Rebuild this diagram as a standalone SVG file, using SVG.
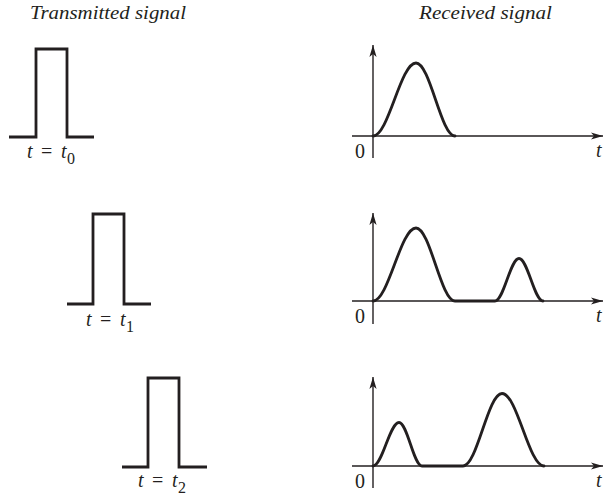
<svg xmlns="http://www.w3.org/2000/svg" width="604" height="496" viewBox="0 0 604 496">
<style>
.title{font-family:"Liberation Serif","Times New Roman",serif;font-style:italic;font-size:19px;fill:#231f20}
.lbl{font-family:"Liberation Serif","Times New Roman",serif;font-size:20px;fill:#231f20}
.sub{font-family:"Liberation Serif","Times New Roman",serif;font-size:16px;fill:#231f20}
.it{font-style:italic}
.pulse{fill:none;stroke:#231f20;stroke-width:2.8;stroke-linejoin:miter}
.axis{fill:none;stroke:#231f20;stroke-width:1.4}
.curve{fill:none;stroke:#231f20;stroke-width:2.8;stroke-linecap:round}
</style>
<defs>
<marker id="arr" markerUnits="userSpaceOnUse" markerWidth="16" markerHeight="10" viewBox="-13 -5 14 10" refX="0" refY="0" orient="auto">
<path d="M0,0 L-12,-3.6 L-9,0 L-12,3.6 Z" fill="#231f20"/>
</marker>
</defs>
<text class="title" x="30" y="19" textLength="156" lengthAdjust="spacingAndGlyphs">Transmitted signal</text>
<text class="title" x="419" y="19" textLength="133" lengthAdjust="spacingAndGlyphs">Received signal</text>

<g id="tx0">
<path class="pulse" d="M9,137 H36 V49 H67 V137 H94"/>
<text class="lbl it" x="27" y="158">t</text>
<text class="lbl" x="41" y="158">=</text>
<text class="lbl it" x="61" y="158">t</text>
<text class="sub" x="67" y="164">0</text>
</g>
<g id="tx1">
<path class="pulse" d="M67,304 H93 V214 H124 V304 H151"/>
<text class="lbl it" x="86" y="326">t</text>
<text class="lbl" x="100" y="326">=</text>
<text class="lbl it" x="120" y="326">t</text>
<text class="sub" x="126" y="332">1</text>
</g>
<g id="tx2">
<path class="pulse" d="M122,467 H148 V378 H179 V467 H207"/>
<text class="lbl it" x="138" y="487">t</text>
<text class="lbl" x="152" y="487">=</text>
<text class="lbl it" x="172" y="487">t</text>
<text class="sub" x="178" y="493">2</text>
</g>

<g id="connectors">
<line class="axis" x1="352" y1="136" x2="603" y2="136" marker-end="url(#arr)"/>
<line class="axis" x1="373" y1="158" x2="373" y2="45" marker-end="url(#arr)"/>
<line class="axis" x1="352" y1="301" x2="603" y2="301" marker-end="url(#arr)"/>
<line class="axis" x1="373" y1="324" x2="373" y2="213" marker-end="url(#arr)"/>
<line class="axis" x1="352" y1="466" x2="603" y2="466" marker-end="url(#arr)"/>
<line class="axis" x1="373" y1="488" x2="373" y2="377" marker-end="url(#arr)"/>
</g>

<g id="rx0">
<path class="curve" d="M373,136 C388.6,136 400.4,63 416,63 C430.2,63 440.8,136 455,136"/>
<text class="lbl" x="355" y="158">0</text>
<text class="lbl it" x="596" y="157">t</text>
</g>
<g id="rx1">
<path class="curve" d="M373,301 C388.6,301 400.4,228 416,228 C430.2,228 440.8,301 455,301 L495,301 C503.7,301 510.3,258.5 519,258.5 C527.7,258.5 534.3,301 543,301"/>
<text class="lbl" x="355" y="323">0</text>
<text class="lbl it" x="596" y="322">t</text>
</g>
<g id="rx2">
<path class="curve" d="M373,466 C382.4,466 389.6,422.5 399,422.5 C407.4,422.5 413.6,466 422,466 L463,466 C477.2,466 487.8,393.5 502,393.5 C517.3,393.5 528.7,466 544,466"/>
<text class="lbl" x="355" y="488">0</text>
<text class="lbl it" x="596" y="487">t</text>
</g>
</svg>
